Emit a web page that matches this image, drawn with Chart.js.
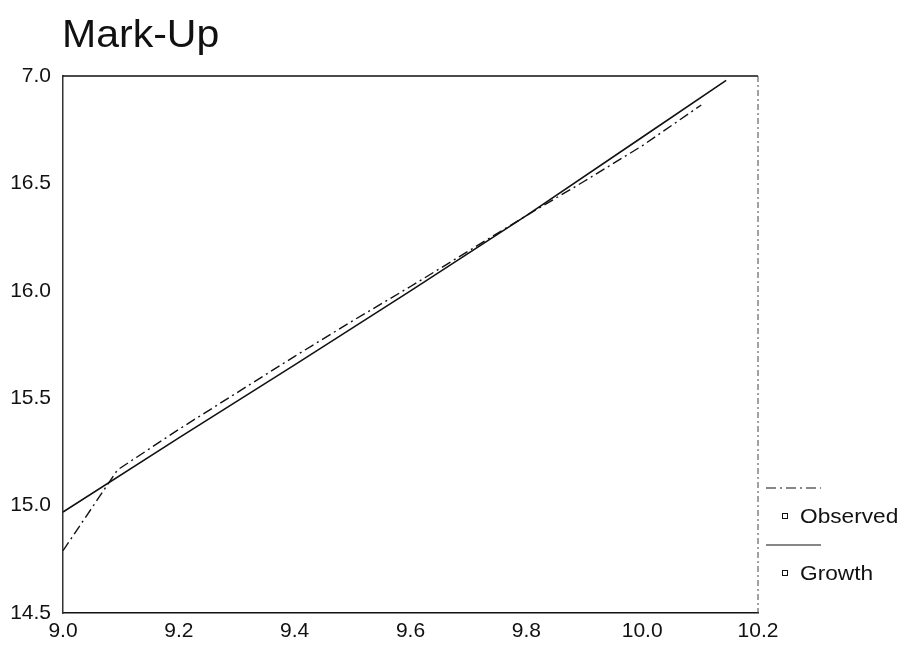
<!DOCTYPE html>
<html>
<head>
<meta charset="utf-8">
<script src="https://cdn.jsdelivr.net/npm/chart.js@4.4.0/dist/chart.umd.min.js"></script>
<style>
  html, body { margin: 0; padding: 0; background: #fff; }
  #wrap { width: 912px; height: 652px; }
</style>
</head>
<body>
<div id="wrap"><canvas id="myChart" width="912" height="652"></canvas></div>
<script>
const chartTitle = "Mark-Up";
const seriesNames = ["Observed", "Growth"];

const observedX = [9.0, 9.094, 9.2, 9.3, 9.4, 9.5, 9.6, 9.7, 9.8, 9.9, 10.0, 10.102];
const observedY = [14.79, 15.166, 15.355, 15.525, 15.695, 15.86, 16.02, 16.185, 16.35, 16.51, 16.675, 16.865];

const growthX = [9.0, 9.2, 9.4, 9.6, 9.8, 10.0, 10.145];
const growthY = [14.97, 15.315, 15.655, 16.0, 16.35, 16.715, 16.98];

const xTicks = [9.0, 9.2, 9.4, 9.6, 9.8, 10.0, 10.2];
const yTicks = [14.5, 15.0, 15.5, 16.0, 16.5, 17.0];
const yTickLabels = ["14.5", "15.0", "15.5", "16.0", "16.5", "7.0"];

const FONT = "'Liberation Sans', Arial, Helvetica, sans-serif";
const INK = "#111";

const toPoints = (xs, ys) => xs.map((x, i) => ({ x: x, y: ys[i] }));

// title, top/right frame and the legend, drawn around the plot area
const extras = {
  id: "extras",
  afterDraw(chart) {
    const ctx = chart.ctx;
    const a = chart.chartArea;
    ctx.save();

    ctx.fillStyle = INK;
    ctx.font = "38px " + FONT;
    ctx.textBaseline = "alphabetic";
    ctx.textAlign = "left";
    ctx.save();
    ctx.translate(62, 47);
    ctx.scale(1.08, 1);
    ctx.fillText(chartTitle, 0, 0);
    ctx.restore();

    ctx.strokeStyle = INK;
    ctx.lineWidth = 1.5;
    ctx.beginPath();
    ctx.moveTo(a.left, a.top);
    ctx.lineTo(a.right, a.top);
    ctx.stroke();

    ctx.lineWidth = 1;
    ctx.strokeStyle = "#444";
    ctx.setLineDash([6, 3, 2, 3]);
    ctx.beginPath();
    ctx.moveTo(a.right, a.top);
    ctx.lineTo(a.right, a.bottom);
    ctx.stroke();

    // legend
    const rows = [488, 545];
    chart.data.datasets.forEach((ds, i) => {
      const y = rows[i];
      ctx.strokeStyle = INK;
      ctx.lineWidth = 1.2;
      ctx.setLineDash(ds.borderDash || []);
      ctx.beginPath();
      ctx.moveTo(766, y);
      ctx.lineTo(821, y);
      ctx.stroke();
      ctx.setLineDash([]);
      ctx.lineWidth = 1;
      ctx.strokeRect(782.5, y + 25.5, 5, 5);
      ctx.fillStyle = INK;
      ctx.font = "21px " + FONT;
      ctx.textBaseline = "middle";
      ctx.save();
      ctx.translate(800, y + 29);
      ctx.scale(1.08, 1);
      ctx.fillText(ds.label, 0, 0);
      ctx.restore();
    });
    ctx.restore();
  }
};

const ctx = document.getElementById("myChart").getContext("2d");
const myChart = new Chart(ctx, {
  type: "line",
  data: {
    datasets: [
      {
        label: seriesNames[0],
        data: toPoints(observedX, observedY),
        borderColor: INK,
        borderWidth: 1.4,
        borderDash: [10, 4, 2, 4],
        pointRadius: 0,
        tension: 0,
        fill: false
      },
      {
        label: seriesNames[1],
        data: toPoints(growthX, growthY),
        borderColor: INK,
        borderWidth: 1.6,
        pointRadius: 0,
        tension: 0,
        fill: false
      }
    ]
  },
  options: {
    responsive: false,
    animation: false,
    layout: { padding: { top: 76, right: 154, left: 0, bottom: 0 } },
    plugins: {
      legend: { display: false },
      title: { display: false },
      tooltip: { enabled: false }
    },
    scales: {
      x: {
        type: "linear",
        min: 9.0,
        max: 10.2,
        afterFit: s => { s.height = 39; },
        afterBuildTicks: s => { s.ticks = xTicks.map(v => ({ value: v })); },
        grid: { display: false, drawTicks: true, tickLength: 6, tickColor: INK },
        border: { display: true, color: INK, width: 1.5 },
        ticks: {
          color: INK,
          font: { family: FONT, size: 21 },
          padding: 0,
          maxRotation: 0,
          callback: v => v.toFixed(1)
        }
      },
      y: {
        type: "linear",
        min: 14.5,
        max: 17.0,
        afterFit: s => { s.width = 63; },
        afterBuildTicks: s => { s.ticks = yTicks.map(v => ({ value: v })); },
        grid: { display: false, drawTicks: true, tickLength: 6, tickColor: INK },
        border: { display: true, color: "#333", width: 1.5, dash: [3, 2] },
        ticks: {
          color: INK,
          font: { family: FONT, size: 21 },
          padding: 6,
          callback: (v) => {
            const i = yTicks.findIndex(t => Math.abs(t - v) < 1e-6);
            return i >= 0 ? yTickLabels[i] : "";
          }
        }
      }
    }
  },
  plugins: [extras]
});
</script>
</body>
</html>
